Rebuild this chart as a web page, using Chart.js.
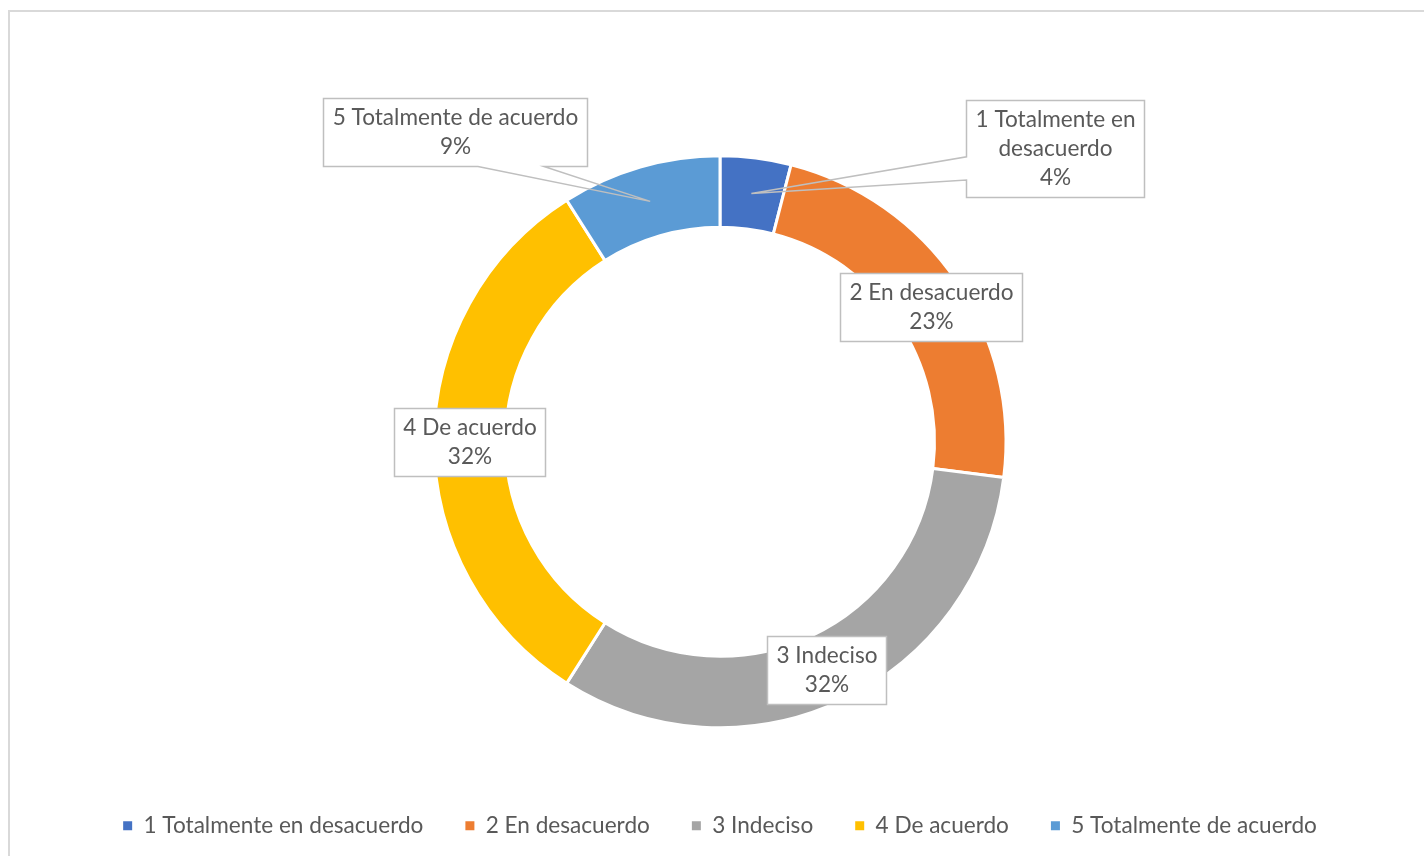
<!DOCTYPE html>
<html lang="es">
<head>
<meta charset="utf-8">
<title>Distribución de respuestas</title>
<script src="https://cdn.jsdelivr.net/npm/chart.js@4.4.1/dist/chart.umd.min.js"></script>
<style>
    html, body { margin: 0; padding: 0; background: #fff; overflow: hidden; }
    body { width: 1424px; height: 856px; position: relative; }
    .frame { position: absolute; left: 8px; top: 10px; width: 1500px; height: 1000px; border: 2px solid #d9d9d9; box-sizing: border-box; }
    .wrap { position: absolute; left: 0; top: 0; width: 1424px; height: 900px; }
</style>
</head>
<body>
<div class="frame"></div>
<div class="wrap"><canvas id="chart"></canvas></div>
<script>
var categories = ['1 Totalmente en desacuerdo', '2 En desacuerdo', '3 Indeciso', '4 De acuerdo', '5 Totalmente de acuerdo'];
var percentages = [4, 23, 32, 32, 9];
var sliceColors = ['#4472c4', '#ed7d31', '#a5a5a5', '#ffc000', '#5b9bd5'];

var FONT = "Lato, 'Open Sans', sans-serif";
var FONT_SIZE = 22.6;
var TEXT = '#595959';
var LINE_H = 29;

// box offset from the middle of each ring segment; two boxes were dragged out and keep a pointer
var labelPlacement = [
    { dx: 304, dy: -45, wrap: 180, pointer: { side: 'left', from: 0.58, to: 0.82 } },
    { dx: 4, dy: 6 },
    { dx: 0, dy: 2 },
    { dx: 0, dy: 0 },
    { dx: -195, dy: -69, pointer: { side: 'bottom', from: 0.585, to: 0.835 } }
];

function wrapText(ctx, text, maxWidth) {
    if (!maxWidth) {
        return [text];
    }
    var words = text.split(' ');
    var lines = [];
    var line = '';
    words.forEach(function (word) {
        var test = line ? line + ' ' + word : word;
        if (line && ctx.measureText(test).width > maxWidth) {
            lines.push(line);
            line = word;
        } else {
            line = test;
        }
    });
    lines.push(line);
    return lines;
}

var calloutLabels = {
    id: 'calloutLabels',
    afterDatasetsDraw: function (chart) {
        var ctx = chart.ctx;
        var meta = chart.getDatasetMeta(0);

        ctx.save();
        ctx.font = FONT_SIZE + 'px ' + FONT;

        meta.data.forEach(function (arc, i) {
            var place = labelPlacement[i];
            var tip = arc.tooltipPosition();
            var lines = wrapText(ctx, categories[i], place.wrap);
            lines.push(percentages[i] + '%');

            var textW = Math.max.apply(null, lines.map(function (l) { return ctx.measureText(l).width; }));
            var w = Math.round(textW + 18);
            var h = lines.length * LINE_H + 10;
            var left = Math.round(tip.x + place.dx - w / 2) + 0.5;
            var top = Math.round(tip.y + place.dy - h / 2) + 0.5;
            var right = left + w;
            var bottom = top + h;

            ctx.fillStyle = '#ffffff';
            ctx.fillRect(left, top, w, h);

            ctx.beginPath();
            var p = place.pointer;
            if (p && p.side === 'left') {
                ctx.moveTo(left, top);
                ctx.lineTo(right, top);
                ctx.lineTo(right, bottom);
                ctx.lineTo(left, bottom);
                ctx.lineTo(left, top + h * p.to);
                ctx.lineTo(tip.x, tip.y);
                ctx.lineTo(left, top + h * p.from);
                ctx.closePath();
            } else if (p && p.side === 'bottom') {
                ctx.moveTo(left, top);
                ctx.lineTo(right, top);
                ctx.lineTo(right, bottom);
                ctx.lineTo(left + w * p.to, bottom);
                ctx.lineTo(tip.x, tip.y);
                ctx.lineTo(left + w * p.from, bottom);
                ctx.lineTo(left, bottom);
                ctx.closePath();
            } else {
                ctx.rect(left, top, w, h);
            }
            ctx.lineWidth = 1.5;
            ctx.strokeStyle = '#bfbfbf';
            ctx.stroke();

            ctx.fillStyle = TEXT;
            ctx.textAlign = 'center';
            ctx.textBaseline = 'middle';
            lines.forEach(function (line, k) {
                ctx.fillText(line, left + w / 2, top + 5 + LINE_H * (k + 0.5));
            });
        });

        ctx.restore();
    }
};

new Chart(document.getElementById('chart'), {
    type: 'doughnut',
    data: {
        labels: categories,
        datasets: [{
            data: percentages,
            backgroundColor: sliceColors,
            borderColor: '#ffffff',
            borderWidth: 3
        }]
    },
    options: {
        responsive: true,
        maintainAspectRatio: false,
        animation: false,
        events: [],
        radius: 286,
        cutout: '75%',
        layout: { padding: { left: 16, top: 111, bottom: 53 } },
        plugins: {
            tooltip: { enabled: false },
            legend: {
                position: 'bottom',
                labels: {
                    boxWidth: 9,
                    boxHeight: 9,
                    padding: 42,
                    color: TEXT,
                    font: { family: FONT, size: FONT_SIZE },
                    generateLabels: function () {
                        return categories.map(function (name, i) {
                            return {
                                text: name,
                                fillStyle: sliceColors[i],
                                strokeStyle: sliceColors[i],
                                lineWidth: 0,
                                fontColor: TEXT,
                                hidden: false,
                                index: i
                            };
                        });
                    }
                }
            }
        }
    },
    plugins: [calloutLabels]
});
</script>
</body>
</html>
